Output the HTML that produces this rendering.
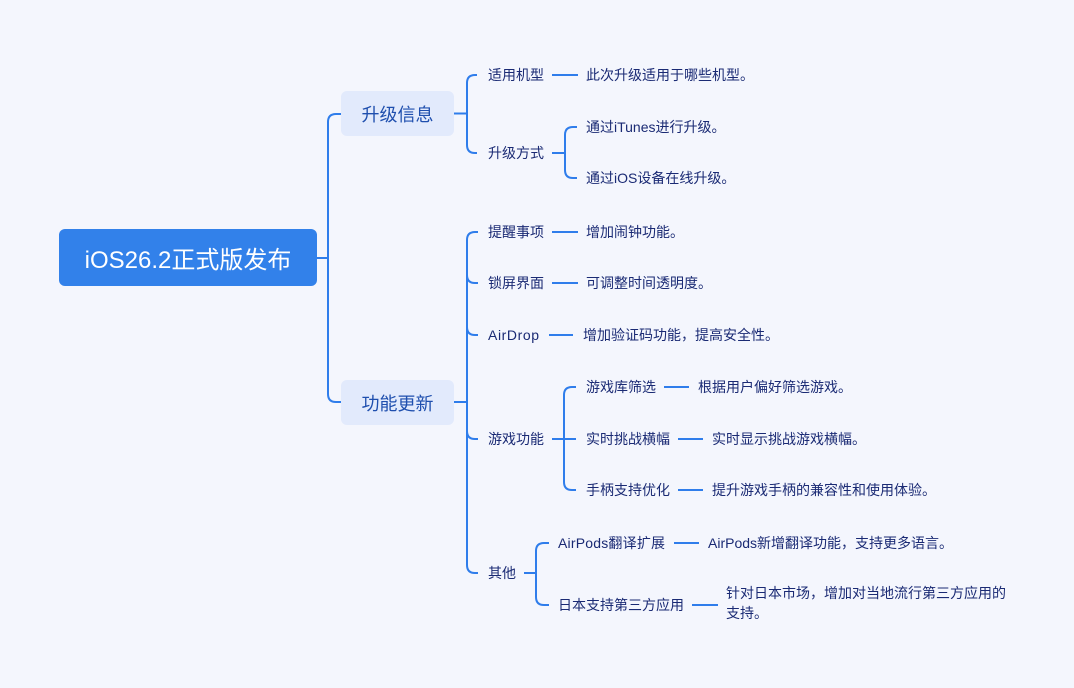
<!DOCTYPE html>
<html>
<head>
<meta charset="utf-8">
<style>
  html,body{margin:0;padding:0;}
  body{width:1074px;height:688px;background:#f4f6fd;position:relative;overflow:hidden;
    font-family:"Liberation Sans","Noto Sans CJK SC",sans-serif;}
  svg{position:absolute;left:0;top:0;}
  .t{position:absolute;font-size:14px;line-height:20px;height:20px;white-space:nowrap;color:#1a2a74;}
  .root{position:absolute;left:59px;top:229px;width:258px;height:57px;display:flex;align-items:center;justify-content:center;
    color:#fff;font-size:24px;}
  .br{position:absolute;width:113px;height:45px;display:flex;align-items:center;justify-content:center;
    color:#1f4fae;font-size:18px;}
</style>
</head>
<body>
<svg width="1074" height="688" viewBox="0 0 1074 688">
  <rect x="59" y="229" width="258" height="57" rx="6" ry="6" fill="#3281ea"/>
  <rect x="341" y="91" width="113" height="45" rx="6" ry="6" fill="#e2eafc"/>
  <rect x="341" y="380" width="113" height="45" rx="6" ry="6" fill="#e2eafc"/>
  <g fill="none" stroke="#2f7deb" stroke-width="2" stroke-linecap="butt">
    <path d="M317,258 H328"/>
    <path d="M341,114 H336 Q328,114 328,122 V394 Q328,402 336,402 H341"/>
    <!-- branch 1 -->
    <path d="M454,113.5 H467"/>
    <path d="M477,75 H475 Q467,75 467,83 V145 Q467,153 475,153 H477"/>
    <path d="M552,75 H578"/>
    <path d="M552,153 H565"/>
    <path d="M577,127 H573 Q565,127 565,135 V170 Q565,178 573,178 H577"/>
    <!-- branch 2 -->
    <path d="M454,402 H467"/>
    <path d="M478,232 H475 Q467,232 467,240 V565 Q467,573 475,573 H478"/>
    <path d="M467,275 Q467,283 475,283 H478"/>
    <path d="M467,327 Q467,335 475,335 H478"/>
    <path d="M467,431 Q467,439 475,439 H478"/>
    <path d="M552,232 H578"/>
    <path d="M552,283 H578"/>
    <path d="M549,335 H573"/>
    <!-- game -->
    <path d="M552,439 H576"/>
    <path d="M576,387 H572 Q564,387 564,395 V482 Q564,490 572,490 H576"/>
    <path d="M664,387 H689"/>
    <path d="M678,439 H703"/>
    <path d="M678,490 H703"/>
    <!-- other -->
    <path d="M524,573 H536"/>
    <path d="M549,543 H544 Q536,543 536,551 V597 Q536,605 544,605 H549"/>
    <path d="M674,543 H699"/>
    <path d="M692,605 H718"/>
  </g>
</svg>

<div class="root">iOS26.2正式版发布</div>
<div class="br" style="left:341px;top:91px;">升级信息</div>
<div class="br" style="left:341px;top:380px;">功能更新</div>

<div class="t" style="left:488px;top:65px;">适用机型</div>
<div class="t" style="left:586px;top:65px;">此次升级适用于哪些机型。</div>
<div class="t" style="left:488px;top:143px;">升级方式</div>
<div class="t" style="left:586px;top:117px;">通过iTunes进行升级。</div>
<div class="t" style="left:586px;top:168px;">通过iOS设备在线升级。</div>

<div class="t" style="left:488px;top:222px;">提醒事项</div>
<div class="t" style="left:586px;top:222px;">增加闹钟功能。</div>
<div class="t" style="left:488px;top:273px;">锁屏界面</div>
<div class="t" style="left:586px;top:273px;">可调整时间透明度。</div>
<div class="t" style="left:488px;top:325px;letter-spacing:0.6px;">AirDrop</div>
<div class="t" style="left:583px;top:325px;">增加验证码功能，提高安全性。</div>

<div class="t" style="left:488px;top:429px;">游戏功能</div>
<div class="t" style="left:586px;top:377px;">游戏库筛选</div>
<div class="t" style="left:698px;top:377px;">根据用户偏好筛选游戏。</div>
<div class="t" style="left:586px;top:429px;">实时挑战横幅</div>
<div class="t" style="left:712px;top:429px;">实时显示挑战游戏横幅。</div>
<div class="t" style="left:586px;top:480px;">手柄支持优化</div>
<div class="t" style="left:712px;top:480px;">提升游戏手柄的兼容性和使用体验。</div>

<div class="t" style="left:488px;top:563px;">其他</div>
<div class="t" style="left:558px;top:533px;letter-spacing:0.2px;">AirPods翻译扩展</div>
<div class="t" style="left:708px;top:533px;">AirPods新增翻译功能，支持更多语言。</div>
<div class="t" style="left:558px;top:595px;">日本支持第三方应用</div>
<div class="t" style="left:726px;top:583px;height:40px;">针对日本市场，增加对当地流行第三方应用的<br>支持。</div>
</body>
</html>
